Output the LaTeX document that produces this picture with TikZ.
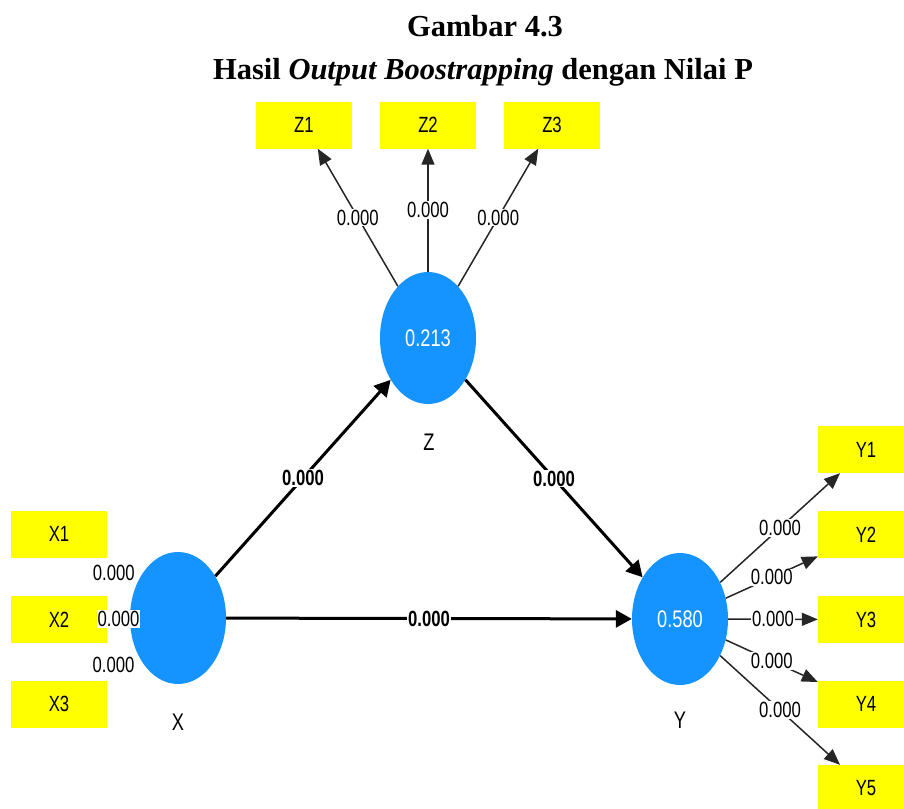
\documentclass[tikz,border=0pt]{standalone}
\usepackage{fontspec}
\setmainfont{Liberation Serif}
\newfontfamily\pls[FakeStretch=0.76]{Liberation Sans}
\usetikzlibrary{shapes.geometric,arrows.meta}
\definecolor{lvblue}{RGB}{21,147,255}
\definecolor{indyellow}{RGB}{255,255,0}
\begin{document}
\begin{tikzpicture}[x=1pt,y=-1pt,
  lv/.style={ellipse, fill=lvblue, minimum width=96pt, minimum height=132pt, inner sep=0pt, text=white, font=\pls\fontsize{24}{24}\selectfont},
  ind/.style={rectangle, fill=indyellow, minimum width=96pt, minimum height=47pt, inner sep=0pt, font=\pls\fontsize{22}{22}\selectfont},
  lvname/.style={font=\pls\fontsize{24}{24}\selectfont},
  lab/.style={fill=white, inner sep=1pt, font=\pls\fontsize{22}{22}\selectfont},
  blab/.style={fill=white, inner sep=1pt, font=\pls\bfseries\fontsize{22}{22}\selectfont},
  indarrow/.style={line width=1.5pt, draw=black!85, -{Triangle[length=16pt,width=13pt]}},
  strarrow/.style={line width=3pt, draw=black, -{Triangle[length=16pt,width=17pt]}},
  ttl/.style={font=\bfseries\fontsize{30.5}{30.5}\selectfont, anchor=base}
]
\useasboundingbox (0,0) rectangle (904,808);
\clip (0,0) rectangle (904,808);
\fill[white] (0,0) rectangle (904,808);

% title
\node[ttl] (t1) at (485,37) {Gambar 4.3};
\node[ttl] (t2) at (483,79) {Hasil \textit{Output Boostrapping} dengan Nilai P};

% latent variables
\node[lv] (Z) at (428,338) {0.213};
\node[lv] (X) at (178,618) {};
\node[lv] (Y) at (680,619) {0.580};
\node[lvname] (Zn) at (429,442) {Z};
\node[lvname] (Xn) at (178,722) {X};
\node[lvname] (Yn) at (680,720) {Y};

% indicators
\node[ind] (Z1) at (304,125) {Z1};
\node[ind] (Z2) at (428,125) {Z2};
\node[ind] (Z3) at (552,125) {Z3};
\node[ind] (X1) at (59,534) {X1};
\node[ind] (X2) at (59,619.5) {X2};
\node[ind] (X3) at (59,704) {X3};
\node[ind] (Y1) at (866,449.5) {Y1};
\node[ind] (Y2) at (866,534.5) {Y2};
\node[ind] (Y3) at (866,619.5) {Y3};
\node[ind] (Y4) at (866,704) {Y4};
\node[ind] (Y5) at (866,788.5) {Y5};

% outer loadings Z
\draw[indarrow] (Z) -- node[lab]{0.000} (Z1);
\draw[indarrow] (Z) -- node[lab]{0.000} (Z2);
\draw[indarrow] (Z) -- node[lab]{0.000} (Z3);

% outer loadings X (connectors hidden behind labels)
\path (X) -- node[lab]{0.000} (X1);
\path (X) -- node[lab]{0.000} (X2);
\path (X) -- node[lab]{0.000} (X3);

% outer loadings Y
\draw[indarrow] (Y) -- node[lab]{0.000} (Y1);
\draw[indarrow] (Y) -- node[lab]{0.000} (Y2);
\draw[indarrow] (Y) -- node[lab]{0.000} (Y3);
\draw[indarrow] (Y) -- node[lab]{0.000} (Y4);
\draw[indarrow] (Y) -- node[lab]{0.000} (Y5);

% structural paths
\draw[strarrow] (X) -- node[blab]{0.000} (Z);
\draw[strarrow] (Z) -- node[blab]{0.000} (Y);
\draw[strarrow] (X) -- node[blab]{0.000} (Y);
\end{tikzpicture}
\end{document}
